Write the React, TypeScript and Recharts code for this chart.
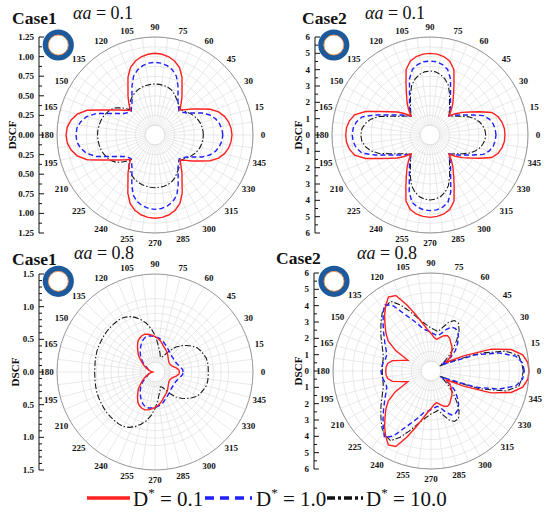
import React from "react";
import {
  RadarChart,
  Radar,
  PolarGrid,
  PolarAngleAxis,
  PolarRadiusAxis,
  Customized,
  LineChart,
  Line,
  XAxis,
  YAxis,
} from "recharts";

const SERIF = '"Liberation Serif", "Times New Roman", serif';

// angle of every point (deg), one point every 5 deg
const angles = [
  0, 5, 10, 15, 20, 25, 30, 35, 40, 45, 50, 55, 60, 65, 70, 75, 80, 85,
  90, 95, 100, 105, 110, 115, 120, 125, 130, 135, 140, 145, 150, 155, 160, 165, 170, 175,
  180, 185, 190, 195, 200, 205, 210, 215, 220, 225, 230, 235, 240, 245, 250, 255, 260, 265,
  270, 275, 280, 285, 290, 295, 300, 305, 310, 315, 320, 325, 330, 335, 340, 345, 350, 355,
];

// labelled angle ticks
const angleTicks = [0, 15, 30, 45, 60, 75, 90, 105, 120, 135, 150, 165, 180, 195, 210, 225, 240, 255, 270, 285, 300, 315, 330, 345];

const spokeAngles = [
  0, 7.5, 15, 22.5, 30, 37.5, 45, 52.5, 60, 67.5, 75, 82.5, 90, 97.5, 105, 112.5,
  120, 127.5, 135, 142.5, 150, 157.5, 165, 172.5, 180, 187.5, 195, 202.5, 210, 217.5,
  225, 232.5, 240, 247.5, 255, 262.5, 270, 277.5, 285, 292.5, 300, 307.5, 315, 322.5,
  330, 337.5, 345, 352.5,
];

// Case1, alpha a = 0.1
const p1Red = [
  0.982, 0.974, 0.954, 0.918, 0.862, 0.778, 0.663, 0.578, 0.504, 0.45,
  0.517, 0.6, 0.689, 0.815, 0.915, 0.974, 1.013, 1.034, 1.042,
  1.034, 1.013, 0.974, 0.915, 0.815, 0.689, 0.6, 0.517, 0.44,
  0.491, 0.556, 0.638, 0.755, 0.922, 1.027, 1.089, 1.124, 1.135,
  1.124, 1.089, 1.027, 0.922, 0.755, 0.638, 0.556, 0.491, 0.44,
  0.517, 0.6, 0.69, 0.82, 0.93, 0.993, 1.033, 1.054, 1.062,
  1.054, 1.033, 0.993, 0.93, 0.82, 0.69, 0.6, 0.517, 0.45,
  0.504, 0.578, 0.663, 0.778, 0.862, 0.918, 0.954, 0.974,
];
const p1Blue = [
  0.864, 0.857, 0.835, 0.8, 0.745, 0.663, 0.561, 0.49, 0.453, 0.434,
  0.466, 0.511, 0.587, 0.694, 0.798, 0.86, 0.898, 0.92, 0.927,
  0.92, 0.898, 0.86, 0.798, 0.694, 0.587, 0.511, 0.466, 0.43,
  0.446, 0.478, 0.548, 0.649, 0.8, 0.904, 0.964, 1.0, 1.008,
  1.0, 0.964, 0.904, 0.8, 0.649, 0.548, 0.478, 0.446, 0.43,
  0.466, 0.511, 0.59, 0.7, 0.815, 0.879, 0.918, 0.941, 0.948,
  0.941, 0.918, 0.879, 0.815, 0.7, 0.59, 0.511, 0.466, 0.434,
  0.453, 0.49, 0.561, 0.663, 0.745, 0.8, 0.835, 0.857,
];
const p1Black = [
  0.616, 0.614, 0.607, 0.597, 0.58, 0.559, 0.533, 0.504, 0.478, 0.459,
  0.478, 0.51, 0.542, 0.58, 0.612, 0.631, 0.642, 0.648, 0.651,
  0.648, 0.642, 0.633, 0.619, 0.6, 0.574, 0.542, 0.504, 0.459,
  0.536, 0.606, 0.651, 0.676, 0.699, 0.714, 0.724, 0.731, 0.733,
  0.731, 0.724, 0.714, 0.699, 0.676, 0.651, 0.606, 0.536, 0.459,
  0.52, 0.56, 0.593, 0.62, 0.64, 0.654, 0.663, 0.669, 0.672,
  0.669, 0.663, 0.652, 0.632, 0.6, 0.56, 0.527, 0.494, 0.459,
  0.478, 0.504, 0.533, 0.559, 0.58, 0.597, 0.607, 0.614,
];

// Case2, alpha a = 0.1
const p2Red = [
  4.59, 4.57, 4.48, 4.32, 4.03, 3.37, 2.82, 2.42, 2.02, 1.65,
  2.05, 2.45, 2.88, 3.48, 4.27, 4.68, 4.88, 4.97, 5.0,
  4.97, 4.88, 4.68, 4.27, 3.48, 2.88, 2.45, 2.05, 1.65,
  2.05, 2.45, 2.85, 3.4, 4.2, 4.78, 5.01, 5.13, 5.16,
  5.13, 5.01, 4.78, 4.2, 3.4, 2.85, 2.45, 2.05, 1.65,
  2.05, 2.45, 2.9, 3.5, 4.3, 4.71, 4.91, 5.0, 5.04,
  5.0, 4.91, 4.71, 4.3, 3.5, 2.9, 2.45, 2.05, 1.65,
  2.02, 2.42, 2.82, 3.37, 4.03, 4.32, 4.48, 4.57,
];
const p2Blue = [
  4.04, 4.01, 3.93, 3.76, 3.47, 2.9, 2.45, 2.14, 1.87, 1.65,
  1.9, 2.19, 2.51, 2.97, 3.67, 4.16, 4.38, 4.5, 4.53,
  4.5, 4.38, 4.16, 3.67, 2.97, 2.51, 2.19, 1.9, 1.65,
  1.87, 2.14, 2.45, 2.9, 3.58, 4.3, 4.58, 4.72, 4.76,
  4.72, 4.58, 4.3, 3.58, 2.9, 2.45, 2.14, 1.87, 1.65,
  1.9, 2.19, 2.52, 3.0, 3.72, 4.26, 4.48, 4.6, 4.63,
  4.6, 4.48, 4.26, 3.72, 3.0, 2.52, 2.19, 1.9, 1.65,
  1.87, 2.14, 2.45, 2.9, 3.47, 3.76, 3.93, 4.01,
];
const p2Black = [
  3.41, 3.38, 3.28, 3.13, 2.91, 2.63, 2.29, 2.0, 1.81, 1.65,
  1.84, 2.08, 2.39, 2.82, 3.26, 3.55, 3.76, 3.88, 3.92,
  3.88, 3.76, 3.55, 3.26, 2.82, 2.39, 2.08, 1.84, 1.65,
  1.81, 2.0, 2.29, 2.71, 3.31, 3.75, 4.03, 4.19, 4.24,
  4.19, 4.03, 3.75, 3.31, 2.71, 2.29, 2.0, 1.81, 1.65,
  1.84, 2.08, 2.4, 2.84, 3.3, 3.6, 3.82, 3.94, 3.98,
  3.94, 3.82, 3.6, 3.3, 2.84, 2.4, 2.08, 1.84, 1.65,
  1.81, 2.0, 2.29, 2.63, 2.91, 3.13, 3.28, 3.38,
];

// Case1, alpha a = 0.8
const p3Red = [
  0.497, 0.49, 0.447, 0.398, 0.367, 0.347, 0.343, 0.347, 0.36, 0.383, 0.413, 0.444,
  0.479, 0.51, 0.54, 0.589, 0.643, 0.686, 0.724, 0.755, 0.781, 0.801, 0.788, 0.755,
  0.704, 0.623, 0.543, 0.475, 0.383, 0.314, 0.253, 0.199, 0.153, 0.115, 0.084, 0.061,
  0.046,
  0.061, 0.084, 0.115, 0.153, 0.199, 0.253, 0.314, 0.383, 0.475, 0.543, 0.623, 0.704,
  0.755, 0.788, 0.801, 0.781, 0.755, 0.724, 0.686, 0.643, 0.589, 0.54, 0.51, 0.479,
  0.444, 0.413, 0.383, 0.36, 0.347, 0.343, 0.347, 0.367, 0.398, 0.447, 0.49,
];
const p3Blue = [
  0.574, 0.566, 0.536, 0.505, 0.482, 0.467, 0.464, 0.464, 0.467, 0.475, 0.49, 0.513,
  0.536, 0.566, 0.602, 0.643, 0.678, 0.704, 0.724, 0.738, 0.745, 0.739, 0.704, 0.651,
  0.589, 0.528, 0.467, 0.406, 0.337, 0.268, 0.204, 0.168, 0.145, 0.133, 0.127, 0.122,
  0.122,
  0.122, 0.127, 0.133, 0.145, 0.168, 0.204, 0.268, 0.337, 0.406, 0.467, 0.528, 0.589,
  0.651, 0.704, 0.739, 0.745, 0.738, 0.724, 0.704, 0.678, 0.643, 0.602, 0.566, 0.536,
  0.513, 0.49, 0.475, 0.467, 0.464, 0.464, 0.467, 0.482, 0.505, 0.536, 0.566,
];
const p3Black = [
  1.087, 1.09, 1.091, 1.084, 1.056, 1.026, 0.992, 0.918, 0.842, 0.758, 0.666, 0.543,
  0.413, 0.337, 0.321, 0.398, 0.474, 0.597, 0.752, 0.888, 1.01, 1.102, 1.186, 1.247,
  1.286, 1.293, 1.293, 1.289, 1.286, 1.278, 1.27, 1.264, 1.26, 1.248, 1.24, 1.232,
  1.232,
  1.232, 1.24, 1.248, 1.26, 1.264, 1.27, 1.278, 1.286, 1.289, 1.293, 1.293, 1.286,
  1.247, 1.186, 1.102, 1.01, 0.888, 0.752, 0.597, 0.474, 0.398, 0.321, 0.337, 0.413,
  0.543, 0.666, 0.758, 0.842, 0.918, 0.992, 1.026, 1.056, 1.084, 1.091, 1.09,
];

// Case2, alpha a = 0.8
const p4Red = [
  6.0, 5.95, 5.7, 5.08, 3.92, 2.2, 1.04, 1.41, 1.62, 1.81, 1.99, 2.11,
  2.3, 2.39, 2.3, 2.11, 1.96, 2.08, 2.3, 2.57, 2.97, 3.55, 4.3, 5.1,
  5.22, 4.85, 4.42, 3.98, 3.6, 3.2, 2.5, 1.56, 1.9, 2.45, 2.69, 2.76,
  2.77,
  2.76, 2.69, 2.45, 1.9, 1.56, 2.5, 3.2, 3.6, 3.98, 4.42, 4.85, 5.22,
  5.1, 4.3, 3.55, 2.97, 2.57, 2.3, 2.08, 1.96, 2.11, 2.3, 2.39, 2.3,
  2.11, 1.99, 1.81, 1.62, 1.41, 1.04, 2.2, 3.92, 5.08, 5.7, 5.95,
];
const p4Blue = [
  5.71, 5.63, 5.27, 4.29, 2.88, 1.22, 0.73, 1.5, 1.95, 2.27, 2.63, 2.88,
  3.0, 2.97, 2.69, 2.36, 2.2, 2.27, 2.36, 2.48, 2.6, 2.94, 3.34, 3.85,
  4.6, 4.97, 4.55, 4.15, 3.8, 3.49, 3.25, 3.03, 2.88, 2.88, 2.97, 3.03,
  3.06,
  3.03, 2.97, 2.88, 2.88, 3.03, 3.25, 3.49, 3.8, 4.15, 4.55, 4.97, 4.6,
  3.85, 3.34, 2.94, 2.6, 2.48, 2.36, 2.27, 2.2, 2.36, 2.69, 2.97, 3.0,
  2.88, 2.63, 2.27, 1.95, 1.5, 0.73, 1.22, 2.88, 4.29, 5.27, 5.63,
];
const p4Black = [
  5.65, 5.57, 5.45, 4.72, 3.18, 1.47, 0.61, 0.98, 1.41, 1.9, 2.45, 3.0,
  3.37, 3.41, 3.18, 2.76, 2.45, 2.54, 2.63, 2.82, 3.06, 3.43, 3.92, 4.47,
  4.93, 4.84, 4.65, 4.32, 4.01, 3.74, 3.49, 3.28, 3.12, 3.03, 3.0, 2.98,
  2.98,
  2.98, 3.0, 3.03, 3.12, 3.28, 3.49, 3.74, 4.01, 4.32, 4.65, 4.84, 4.93,
  4.47, 3.92, 3.43, 3.06, 2.82, 2.63, 2.54, 2.45, 2.76, 3.18, 3.41, 3.37,
  3.0, 2.45, 1.9, 1.41, 0.98, 0.61, 1.47, 3.18, 4.72, 5.45, 5.57,
];

// grid rings (radius axis ticks)
const p1Rings = [0, 0.125, 0.25, 0.375, 0.5, 0.625, 0.75, 0.875, 1, 1.125, 1.25];
const p2Rings = [0, 0.6, 1.2, 1.8, 2.4, 3, 3.6, 4.2, 4.8, 5.4, 6];
const p3Rings = [0, 0.15, 0.3, 0.45, 0.6, 0.75, 0.9, 1.05, 1.2, 1.35, 1.5];

// left DSCF axes
const p1YTicks = [
  -1.25, -1.125, -1, -0.875, -0.75, -0.625, -0.5, -0.375, -0.25, -0.125, 0,
  0.125, 0.25, 0.375, 0.5, 0.625, 0.75, 0.875, 1, 1.125, 1.25,
];
const p2YTicks = [
  -6, -5.5, -5, -4.5, -4, -3.5, -3, -2.5, -2, -1.5, -1, -0.5, 0,
  0.5, 1, 1.5, 2, 2.5, 3, 3.5, 4, 4.5, 5, 5.5, 6,
];
const p3YTicks = [
  -1.5, -1.4, -1.3, -1.2, -1.1, -1, -0.9, -0.8, -0.7, -0.6, -0.5, -0.4, -0.3, -0.2, -0.1, 0,
  0.1, 0.2, 0.3, 0.4, 0.5, 0.6, 0.7, 0.8, 0.9, 1, 1.1, 1.2, 1.3, 1.4, 1.5,
];

const SIZE = 236;
const C = 118;
const R = 98;
const LABEL_R = 108;

const angleTick = (props: any) => {
  const { x, y, payload } = props;
  const a = Number(payload.value);
  if (a % 15 !== 0 || a >= 360) return <g />;
  const dx = x - C;
  const dy = y - C;
  const len = Math.hypot(dx, dy) || 1;
  return (
    <text
      x={C + (dx / len) * LABEL_R}
      y={C + (dy / len) * LABEL_R}
      textAnchor="middle"
      dominantBaseline="central"
      fontSize={9}
      fontWeight="bold"
      fontFamily={SERIF}
      fill="#111"
    >
      {a}
    </text>
  );
};

// white hub in the middle of the grid, like the original plot
const Hub = () => <circle cx={C} cy={C} r={R / 10} fill="#fff" stroke="#d4d4d4" strokeWidth={0.6} />;

function Panel({ left, top, red, blue, black, rings, max }: any) {
  const rows = angles.map((a, i) => ({ angle: a, red: red[i], blue: blue[i], black: black[i] }));
  return (
    <div style={{ position: "absolute", left, top }}>
      <RadarChart
        width={SIZE}
        height={SIZE}
        cx={C}
        cy={C}
        outerRadius={R}
        startAngle={0}
        endAngle={360}
        data={rows}
        margin={{ top: 0, right: 0, bottom: 0, left: 0 }}
      >
        <PolarGrid gridType="circle" polarAngles={spokeAngles} stroke="#dadada" strokeWidth={0.6} />
        <Customized component={Hub} />
        <PolarAngleAxis
          dataKey="angle"
          type="number"
          domain={[0, 360]}
          ticks={angleTicks}
          axisLineType="circle"
          stroke="#959595"
          tickLine={false}
          tick={angleTick}
        />
        <PolarRadiusAxis domain={[0, max]} ticks={rings} tickCount={11} tick={false} axisLine={false} />
        <Radar dataKey="black" stroke="#1a1a1a" strokeWidth={1.1} strokeDasharray="6 2 1.5 2" fill="none" fillOpacity={0} dot={false} isAnimationActive={false} />
        <Radar dataKey="blue" stroke="#1f1fff" strokeWidth={1.4} strokeDasharray="5 3" fill="none" fillOpacity={0} dot={false} isAnimationActive={false} />
        <Radar dataKey="red" stroke="#ff2020" strokeWidth={1.4} fill="none" fillOpacity={0} dot={false} isAnimationActive={false} />
      </RadarChart>
    </div>
  );
}

function SideAxis({ left, top, ticks, max, step, digits }: any) {
  const rows = ticks.map((v: number) => ({ v }));
  const tick = (props: any) => {
    const { x, y, payload } = props;
    const v = Number(payload.value);
    const major = Math.abs(v / step - Math.round(v / step)) < 1e-6;
    return (
      <g>
        <line x1={x} x2={x + (major ? 5 : 3)} y1={y} y2={y} stroke="#111" strokeWidth={1} />
        {major && (
          <text
            x={x - 5}
            y={y}
            textAnchor="end"
            dominantBaseline="central"
            fontSize={9}
            fontWeight="bold"
            fontFamily={SERIF}
            fill="#111"
          >
            {Math.abs(v).toFixed(digits)}
          </text>
        )}
      </g>
    );
  };
  return (
    <div style={{ position: "absolute", left, top }}>
      <LineChart width={50} height={216} data={rows} margin={{ top: 10, right: 10, bottom: 10, left: 0 }}>
        <XAxis hide />
        <YAxis
          width={40}
          type="number"
          domain={[-max, max]}
          ticks={ticks}
          interval={0}
          tickSize={0}
          tickMargin={0}
          tickLine={false}
          axisLine={{ stroke: "#111", strokeWidth: 1 }}
          tick={tick}
        />
        <Line dataKey="v" stroke="none" dot={false} isAnimationActive={false} />
      </LineChart>
    </div>
  );
}

function RingIcon({ x, y }: { x: number; y: number }) {
  return (
    <g>
      <circle cx={x} cy={y} r={12.8} fill="none" stroke="#1c5a9c" strokeWidth={5.6} />
      <circle cx={x} cy={y} r={10} fill="#fff" stroke="#e0894a" strokeWidth={0.9} />
    </g>
  );
}

function Title({ x, y, caseName, ax, ay, value }: any) {
  return (
    <g fontFamily={SERIF} fill="#111">
      <text x={x} y={y} fontSize={17.5} fontWeight="bold">
        {caseName}
      </text>
      <text x={ax} y={ay} fontSize={18}>
        <tspan fontStyle="italic">αa</tspan> = {value}
      </text>
    </g>
  );
}

function Dscf({ x, y }: { x: number; y: number }) {
  return (
    <text
      x={x}
      y={y}
      transform={`rotate(-90 ${x} ${y})`}
      textAnchor="middle"
      dominantBaseline="central"
      fontSize={11}
      fontWeight="bold"
      fontFamily={SERIF}
      fill="#111"
    >
      DSCF
    </text>
  );
}

function LegendItem({ x1, x2, tx, stroke, dash, value }: any) {
  return (
    <g>
      <line x1={x1} x2={x2} y1={498} y2={498} stroke={stroke} strokeWidth={3.6} strokeDasharray={dash} />
      <text x={tx} y={506} fontSize={21} fontFamily={SERIF} fill="#111">
        D<tspan dy={-9} fontSize={13}>*</tspan>
        <tspan dy={9}> = {value}</tspan>
      </text>
    </g>
  );
}

export default function App() {
  return (
    <div style={{ position: "absolute", left: 0, top: 0, width: 550, height: 515, background: "#fff", overflow: "hidden" }}>
      <Panel left={37} top={17} red={p1Red} blue={p1Blue} black={p1Black} rings={p1Rings} max={1.25} />
      <Panel left={312} top={17} red={p2Red} blue={p2Blue} black={p2Black} rings={p2Rings} max={6} />
      <Panel left={37} top={254} red={p3Red} blue={p3Blue} black={p3Black} rings={p3Rings} max={1.5} />
      <Panel left={313} top={253} red={p4Red} blue={p4Blue} black={p4Black} rings={p2Rings} max={6} />

      <SideAxis left={-1} top={27} ticks={p1YTicks} max={1.25} step={0.25} digits={2} />
      <SideAxis left={275} top={27} ticks={p2YTicks} max={6} step={1} digits={0} />
      <SideAxis left={-1} top={264} ticks={p3YTicks} max={1.5} step={0.5} digits={1} />
      <SideAxis left={274} top={263} ticks={p2YTicks} max={6} step={1} digits={0} />

      <svg width={550} height={515} style={{ position: "absolute", left: 0, top: 0, pointerEvents: "none" }}>
        <Title x={12} y={24} caseName="Case1" ax={73} ay={19} value="0.1" />
        <Title x={302} y={24} caseName="Case2" ax={365} ay={19} value="0.1" />
        <Title x={12} y={265} caseName="Case1" ax={74} ay={259} value="0.8" />
        <Title x={276} y={264} caseName="Case2" ax={357} ay={259} value="0.8" />

        <RingIcon x={58.3} y={45} />
        <RingIcon x={333.8} y={45} />
        <RingIcon x={58.3} y={281.3} />
        <RingIcon x={334} y={281.3} />

        <Dscf x={12} y={135} />
        <Dscf x={298} y={135} />
        <Dscf x={15} y={372} />
        <Dscf x={298} y={371} />

        <LegendItem x1={87} x2={130} tx={133} stroke="#ff2020" value="0.1" />
        <LegendItem x1={205} x2={252} tx={256} stroke="#1f1fff" dash="9 6" value="1.0" />
        <LegendItem x1={327} x2={363} tx={366} stroke="#111" dash="8 3 3 3" value="10.0" />
      </svg>
    </div>
  );
}
